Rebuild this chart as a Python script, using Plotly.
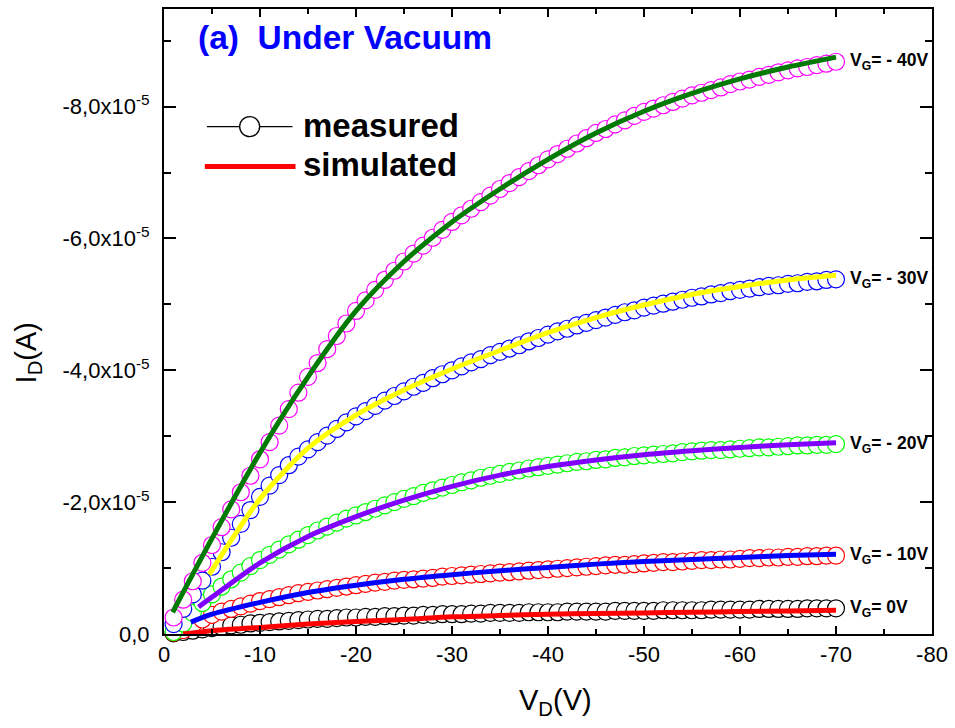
import plotly.graph_objects as go

# ---------------- data (current in units of 1e-5 A) ----------------
vd_meas = [-v for v in range(1, 71)]

meas_vg40 = [-0.25, -0.52, -0.8, -1.08, -1.35, -1.62, -1.89, -2.15, -2.4, -2.65,
             -2.91, -3.16, -3.41, -3.66, -3.9, -4.11, -4.32, -4.52, -4.71, -4.9,
             -5.06, -5.22, -5.37, -5.51, -5.65, -5.77, -5.89, -6.01, -6.13, -6.25,
             -6.35, -6.45, -6.55, -6.65, -6.75, -6.84, -6.93, -7.02, -7.11, -7.2,
             -7.28, -7.36, -7.44, -7.52, -7.6, -7.66, -7.73, -7.79, -7.86, -7.92,
             -7.97, -8.02, -8.07, -8.12, -8.17, -8.21, -8.25, -8.29, -8.34, -8.38,
             -8.41, -8.45, -8.48, -8.52, -8.55, -8.58, -8.6, -8.63, -8.65, -8.68]
meas_vg30 = [-0.15, -0.38, -0.6, -0.81, -1.02, -1.24, -1.46, -1.67, -1.88, -2.08,
             -2.25, -2.41, -2.56, -2.69, -2.8, -2.91, -3.01, -3.11, -3.21, -3.3,
             -3.38, -3.46, -3.54, -3.61, -3.68, -3.75, -3.81, -3.88, -3.94, -4.0,
             -4.06, -4.12, -4.17, -4.23, -4.28, -4.33, -4.38, -4.44, -4.49, -4.54,
             -4.59, -4.63, -4.68, -4.72, -4.76, -4.8, -4.84, -4.88, -4.91, -4.95,
             -4.98, -5.01, -5.04, -5.07, -5.1, -5.12, -5.15, -5.17, -5.2, -5.22,
             -5.24, -5.26, -5.28, -5.29, -5.31, -5.32, -5.34, -5.35, -5.37, -5.38]
meas_vg20 = [-0.03, -0.16, -0.32, -0.47, -0.6, -0.72, -0.83, -0.93, -1.03, -1.12,
             -1.2, -1.28, -1.36, -1.43, -1.5, -1.57, -1.63, -1.69, -1.75, -1.8,
             -1.85, -1.9, -1.95, -2.0, -2.05, -2.09, -2.14, -2.18, -2.22, -2.26,
             -2.3, -2.33, -2.37, -2.4, -2.43, -2.46, -2.48, -2.51, -2.53, -2.55,
             -2.57, -2.59, -2.61, -2.62, -2.64, -2.65, -2.67, -2.68, -2.7, -2.71,
             -2.72, -2.73, -2.74, -2.76, -2.77, -2.78, -2.79, -2.79, -2.8, -2.81,
             -2.82, -2.83, -2.83, -2.84, -2.85, -2.86, -2.86, -2.87, -2.87, -2.88]
meas_vg10 = [-0.02, -0.06, -0.14, -0.22, -0.29, -0.34, -0.38, -0.42, -0.46, -0.5,
             -0.53, -0.56, -0.59, -0.62, -0.64, -0.66, -0.68, -0.7, -0.72, -0.74,
             -0.76, -0.78, -0.79, -0.81, -0.82, -0.83, -0.84, -0.85, -0.87, -0.88,
             -0.89, -0.9, -0.91, -0.92, -0.93, -0.94, -0.95, -0.96, -0.97, -0.98,
             -0.99, -1.0, -1.01, -1.02, -1.03, -1.04, -1.05, -1.05, -1.06, -1.07,
             -1.08, -1.09, -1.09, -1.1, -1.11, -1.12, -1.12, -1.13, -1.13, -1.14,
             -1.15, -1.15, -1.16, -1.16, -1.17, -1.17, -1.18, -1.18, -1.19, -1.19]
meas_vg0 = [-0.01, -0.03, -0.05, -0.07, -0.09, -0.11, -0.13, -0.14, -0.16, -0.17,
            -0.18, -0.19, -0.2, -0.21, -0.22, -0.23, -0.23, -0.24, -0.25, -0.25,
            -0.26, -0.26, -0.27, -0.27, -0.28, -0.28, -0.29, -0.29, -0.3, -0.3,
            -0.3, -0.31, -0.31, -0.32, -0.32, -0.32, -0.32, -0.33, -0.33, -0.33,
            -0.33, -0.34, -0.34, -0.34, -0.34, -0.34, -0.35, -0.35, -0.35, -0.35,
            -0.35, -0.36, -0.36, -0.36, -0.36, -0.36, -0.37, -0.37, -0.37, -0.37,
            -0.37, -0.38, -0.38, -0.38, -0.38, -0.38, -0.39, -0.39, -0.39, -0.39]

sim_v_40 = [-0.9, -5, -10, -15, -20, -25, -30, -35, -40, -45, -50, -55, -60, -65, -70]
sim_i_40 = [-0.33, -1.45, -2.75, -3.9, -4.9, -5.65, -6.25, -6.75, -7.2, -7.6, -7.93, -8.2, -8.42, -8.6, -8.75]
sim_v_30 = [-4.7, -10, -15, -20, -25, -30, -35, -40, -45, -50, -55, -60, -65, -70]
sim_i_30 = [-0.9, -2.05, -2.82, -3.32, -3.7, -4.02, -4.3, -4.57, -4.8, -4.99, -5.15, -5.27, -5.37, -5.44]
sim_v_20 = [-3.6, -5, -10, -15, -20, -25, -30, -35, -40, -45, -50, -55, -60, -65, -70]
sim_i_20 = [-0.41, -0.56, -1.08, -1.48, -1.78, -2.03, -2.24, -2.41, -2.54, -2.64, -2.72, -2.78, -2.83, -2.87, -2.9]
sim_v_10 = [-2.8, -5, -10, -15, -20, -25, -30, -35, -40, -45, -50, -55, -60, -65, -70]
sim_i_10 = [-0.18, -0.3, -0.48, -0.63, -0.74, -0.83, -0.9, -0.96, -1.01, -1.06, -1.1, -1.13, -1.16, -1.19, -1.21]
sim_v_0 = [-2, -5, -10, -15, -20, -25, -30, -35, -40, -45, -50, -55, -60, -65, -70]
sim_i_0 = [0.0, -0.05, -0.1, -0.15, -0.19, -0.22, -0.26, -0.28, -0.3, -0.31, -0.32, -0.33, -0.34, -0.35, -0.36]

vg_labels = ["V<sub>G</sub>= 0V", "V<sub>G</sub>= - 10V", "V<sub>G</sub>= - 20V",
             "V<sub>G</sub>= - 30V", "V<sub>G</sub>= - 40V"]

x_tickvals = [0, -10, -20, -30, -40, -50, -60, -70, -80]
x_ticktext = ["0", "-10", "-20", "-30", "-40", "-50", "-60", "-70", "-80"]
y_tickvals = [0, -2, -4, -6, -8]
y_ticktext = ["0,0", "-2,0x10<sup>-5</sup>", "-4,0x10<sup>-5</sup>",
              "-6,0x10<sup>-5</sup>", "-8,0x10<sup>-5</sup>"]

# ---------------- styles ----------------
meas_series = [meas_vg0, meas_vg10, meas_vg20, meas_vg30, meas_vg40]
meas_colors = ["#000000", "#FF0000", "#00FF00", "#0000FF", "#FF00FF"]
sim_series = [(sim_v_0, sim_i_0), (sim_v_10, sim_i_10), (sim_v_20, sim_i_20),
              (sim_v_30, sim_i_30), (sim_v_40, sim_i_40)]
sim_colors = ["#FF0000", "#0000FF", "#7F00FF", "#FFFF00", "#007A00"]

FONT = "Liberation Sans, Arial, sans-serif"

fig = go.Figure()

for ys, c in zip(meas_series, meas_colors):
    fig.add_trace(go.Scatter(
        x=vd_meas, y=ys, mode="markers", showlegend=False,
        marker=dict(symbol="circle", size=17, color="white",
                    line=dict(color=c, width=1.2)),
        cliponaxis=False))

for (xs, ys), c in zip(sim_series, sim_colors):
    fig.add_trace(go.Scatter(
        x=xs, y=ys, mode="lines", showlegend=False,
        line=dict(color=c, width=5, shape="spline", smoothing=0.8)))

# curve labels
annotations = []
for lab, ys in zip(vg_labels, meas_series):
    annotations.append(dict(
        x=-71.3, y=ys[-1], xref="x", yref="y", text="<b>" + lab + "</b>",
        showarrow=False, xanchor="left", yanchor="middle",
        font=dict(family=FONT, size=17.5, color="black")))

# title
annotations.append(dict(
    x=(196 - 164) / 771, y=(634 - 36) / 627, xref="paper", yref="paper",
    text="<b>(a)  Under Vacuum</b>", showarrow=False,
    xanchor="left", yanchor="middle",
    font=dict(family=FONT, size=33.5, color="#0000FF")))

# legend texts
annotations.append(dict(
    x=(302 - 164) / 771, y=(634 - 124) / 627, xref="paper", yref="paper",
    text="<b>measured</b>", showarrow=False, xanchor="left", yanchor="middle",
    font=dict(family=FONT, size=33, color="black")))
annotations.append(dict(
    x=(302 - 164) / 771, y=(634 - 163) / 627, xref="paper", yref="paper",
    text="<b>simulated</b>", showarrow=False, xanchor="left", yanchor="middle",
    font=dict(family=FONT, size=33, color="black")))

# axis titles
annotations.append(dict(
    x=(557 - 164) / 771, y=(634 - 702) / 627, xref="paper", yref="paper",
    text="V<sub>D</sub>(V)", showarrow=False, xanchor="center", yanchor="middle",
    font=dict(family=FONT, size=29, color="black")))
annotations.append(dict(
    x=(27 - 164) / 771, y=(634 - 352) / 627, xref="paper", yref="paper",
    text="I<sub>D</sub>(A)", showarrow=False, xanchor="center", yanchor="middle",
    textangle=-90, font=dict(family=FONT, size=29, color="black")))

shapes = [
    dict(type="line", xref="paper", yref="paper",
         x0=(207 - 164) / 771, x1=(293 - 164) / 771,
         y0=(634 - 125) / 627, y1=(634 - 125) / 627,
         line=dict(color="black", width=1.2)),
    dict(type="circle", xref="paper", yref="paper",
         xsizemode="pixel", ysizemode="pixel",
         xanchor=(250 - 164) / 771, yanchor=(634 - 125) / 627,
         x0=-10, x1=10, y0=-10, y1=10,
         fillcolor="white", line=dict(color="black", width=1.3)),
    dict(type="line", xref="paper", yref="paper",
         x0=(205 - 164) / 771, x1=(296 - 164) / 771,
         y0=(634 - 165) / 627, y1=(634 - 165) / 627,
         line=dict(color="#FF0000", width=5)),
]

fig.update_layout(
    width=955, height=728,
    margin=dict(l=164, r=20, t=7, b=94),
    paper_bgcolor="white", plot_bgcolor="white",
    showlegend=False,
    annotations=annotations, shapes=shapes,
    font=dict(family=FONT, color="black"),
)

fig.update_xaxes(
    range=[0, -80], tickvals=x_tickvals, ticktext=x_ticktext,
    showgrid=False, zeroline=False,
    showline=True, linecolor="black", linewidth=2, mirror="ticks",
    ticks="inside", ticklen=8, tickwidth=1.5, tickcolor="black",
    minor=dict(dtick=5, tick0=0, ticks="inside", ticklen=5, tickwidth=1.5,
               tickcolor="black", showgrid=False),
    tickfont=dict(family=FONT, size=22, color="black"),
)
fig.update_yaxes(
    range=[0, -9.48], tickvals=y_tickvals, ticktext=y_ticktext,
    showgrid=False, zeroline=False,
    showline=True, linecolor="black", linewidth=2, mirror="ticks",
    ticks="inside", ticklen=12, tickwidth=1.5, tickcolor="black",
    minor=dict(dtick=1, tick0=0, ticks="inside", ticklen=7, tickwidth=1.5,
               tickcolor="black", showgrid=False),
    tickfont=dict(family=FONT, size=22, color="black"),
    ticklabelstandoff=8,
)

fig.write_html("out.html")
